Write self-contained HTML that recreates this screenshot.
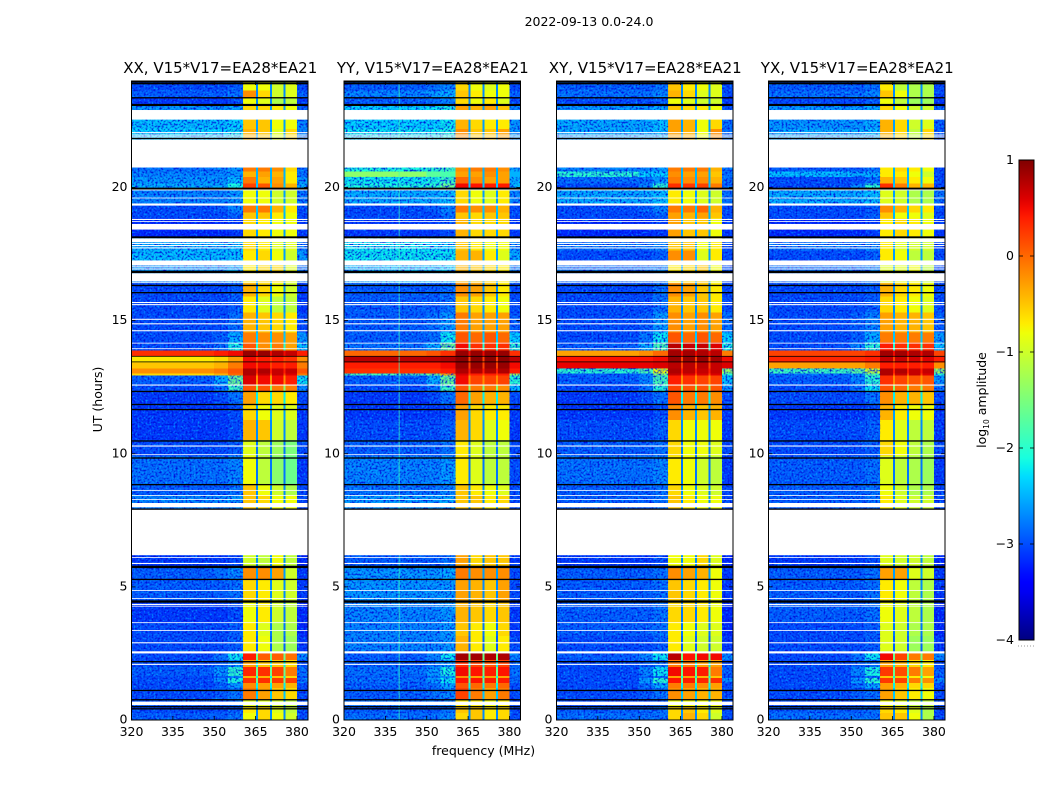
<!DOCTYPE html>
<html lang="en">
<head>
<meta charset="utf-8">
<title>2022-09-13 dynamic spectra</title>
<style>
html,body{margin:0;padding:0;background:#fff;width:1050px;height:800px;overflow:hidden}
svg{display:block}
text{font-family:"DejaVu Sans","Liberation Sans",sans-serif;fill:#000}
</style>
</head>
<body>
<svg id="chart" xmlns="http://www.w3.org/2000/svg" width="1050" height="800" viewBox="0 0 1050 800">
<defs>
<filter id="grain-light" x="0" y="0" width="1" height="1" color-interpolation-filters="sRGB">
<feTurbulence type="fractalNoise" baseFrequency="0.5" numOctaves="2" seed="4"/>
<feColorMatrix type="matrix" values="0 0 0 0 0  0 0 0 0 0.72  0 0 0 0 1  2.2 0 0 0 -1.08"/>
</filter>
<filter id="grain-dark" x="0" y="0" width="1" height="1" color-interpolation-filters="sRGB">
<feTurbulence type="fractalNoise" baseFrequency="0.5" numOctaves="2" seed="11"/>
<feColorMatrix type="matrix" values="0 0 0 0 0  0 0 0 0 0.05  0 0 0 0 0.85  3 0 0 0 -1.35"/>
</filter>
<linearGradient id="jet-gradient" x1="0" y1="1" x2="0" y2="0"></linearGradient>
</defs>
<text x="589" y="26" font-size="12.5" text-anchor="middle">2022-09-13 0.0-24.0</text>
<text x="483.5" y="755" font-size="12.5" text-anchor="middle">frequency (MHz)</text>
<text transform="translate(102,399.5) rotate(-90)" font-size="12.5" text-anchor="middle">UT (hours)</text>
<text transform="translate(986,400) rotate(-90)" font-size="12.5" text-anchor="middle">log<tspan font-size="7.5" dy="3">10</tspan><tspan dy="-3"> amplitude</tspan></text>
<g id="panels"></g>
<g id="colorbar"></g>
</svg>
<script>
// Frequency column edges (MHz): three background columns, then the four bright windows split by three notches, then the top edge.
const freqEdges = [320, 350, 355, 360.5, 365.1, 365.8, 370.2, 370.9, 375.2, 375.9, 380, 384];
const freqTicks = [320, 335, 350, 365, 380];
const utTicks = [0, 5, 10, 15, 20];
const cbarTicks = [1, 0, -1, -2, -3, -4];
const cbarTickLabels = ['1', '0', '\u22121', '\u22122', '\u22123', '\u22124'];
const panelTitles = ['XX, V15*V17=EA28*EA21', 'YY, V15*V17=EA28*EA21', 'XY, V15*V17=EA28*EA21', 'YX, V15*V17=EA28*EA21'];
// Time rows: UT at the top of every row (descending); last row ends at UT 0.
const rowTops = [24,23.64,23.38,23.11,22.55,22.2,20.75,20.6,20.4,20.15,19.96,19.32,19.06,18.84,18.12,17.64,17.26,16.44,15.9,15.31,14.56,14.18,13.88,13.66,13.43,13.21,13.02,12.94,12.57,12.31,11.86,11.26,10.51,9.91,8.86,8.44,6.19,5.78,5.25,4.43,3.68,3.15,2.55,2.25,1.99,1.65,1.58,1.39,1.2,0.75,0.53,0.26];
// log10 amplitude in the three notches, one per time row.
const notchLevels = [-2.7,-2.7,-2.7,-2.6,-2.6,-2.6,-2.5,-2.5,-2.5,-2.4,-2.6,-2.4,-2.5,-2.6,-2.6,-2.6,-2.6,-2.7,-2.7,-2.6,-2.4,-2,0.5,0.2,0.2,0.4,0.2,-0.2,-1.4,-2.2,-2.6,-2.7,-2.8,-2.8,-2.7,-2.7,-2.7,-2.6,-2.7,-2.8,-2.8,-2.9,-1.6,-2.2,-1.6,-2.2,-1.6,-2.2,-2.4,-2.7,-2.7,-2.7];
// One row per time row; columns: 320-350, 350-355, 355-360.5, window1, window2, window3, window4, 380-384.
const xxLevels = [
[-3,-3,-2.9,-.8,-.8,-1,-.9,-3],[-2.9,-2.9,-2.8,-.2,-.6,-1,-.9,-2.9],[-3.1,-3.1,-3,-.8,-.9,-1.2,-1.1,-3.1],[-2.6,-2.6,-2.5,-.6,-.6,-.7,-.8,-2.9],[-2.4,-2.4,-2.3,-.5,-.5,-.8,-.8,-2.7],[-2.3,-2.3,-2.2,-.4,-.5,-.9,-.6,-2.7],
[-2.8,-2.7,-2.6,-.1,-.1,-.2,-.6,-2.8],[-2.7,-2.7,-2.6,-.4,-.3,-.4,-.7,-2.8],[-2.6,-2.6,-2.4,-.1,-.4,-.3,-.7,-2.6],[-2.5,-2.5,-2.1,.2,.1,-.2,-.4,-2.5],[-2.7,-2.7,-2.6,-.8,-.8,-1,-1,-2.8],[-3,-2.9,-2.7,-.1,-.1,-.4,-.7,-3],[-3,-3,-2.9,-.5,-.5,-.7,-.8,-3],[-3.2,-3.2,-3.1,-.6,-.7,-.8,-.8,-3.1],[-2.5,-2.5,-2.4,-.6,-.7,-.9,-.9,-2.8],[-2.4,-2.4,-2.4,-.7,-.6,-.8,-1,-2.6],[-2.6,-2.6,-2.5,-.7,-.6,-.6,-.9,-2.8],
[-3,-3,-2.9,-.4,-.6,-.8,-1,-3.1],[-3,-3,-2.9,-.7,-.9,-1.1,-1.1,-3.1],[-3,-3,-2.8,-.4,-.5,-.6,-.7,-3],[-3,-2.9,-2.5,-.1,-.2,-.2,-.3,-2.6],[-3,-2.8,-2.1,.1,-.2,-.1,-.3,-2.4],
[.3,.4,.5,.9,.9,.8,.7,.4],[-.7,-.6,-.3,.5,.4,.4,.3,-.2],[-.5,-.4,-.1,.5,.5,.4,.4,-.1],[-.2,-.1,.1,.8,.8,.7,.7,.1],[-.6,-.4,0,.8,.7,.7,.6,-.1],[-2.9,-2.5,-1.6,.6,.5,.5,.4,-2.2],[-3,-2.8,-1.9,.1,.1,-.1,-.1,-2.7],
[-3.1,-3,-2.8,-.3,-.6,-.6,-.7,-3],[-3.1,-3.1,-3,-.6,-.8,-.9,-.9,-3.1],[-3.1,-3.1,-3,-.4,-.5,-1,-1.1,-3.1],[-3,-3,-2.9,-.9,-1.1,-1.3,-1.5,-3],[-2.8,-2.8,-2.7,-.8,-1.1,-1.4,-1.6,-3.1],[-2.9,-2.9,-2.8,-.5,-.8,-1,-1.2,-3],[-2.7,-2.7,-2.6,-.5,-.6,-.8,-.8,-3],
[-3.1,-3.1,-3,-1,-1.1,-.8,-1.1,-3.2],[-2.9,-2.8,-2.7,-.2,-.2,-.3,-1,-3.1],[-2.9,-2.9,-2.8,-.6,-.7,-.9,-1,-3.1],[-3.1,-3.1,-3,-.8,-.7,-1,-1.1,-3.2],[-3,-3,-2.9,-.7,-.9,-1.2,-1.2,-3.2],[-3,-3,-2.9,-.7,-.8,-1.2,-1.3,-3.1],
[-3,-2.8,-2.2,.4,.05,.05,-.05,-2.7],[-3,-2.9,-2.7,-.3,-.5,-.5,-.6,-3],[-2.9,-2.6,-2,.35,.3,.2,-.1,-2.8],[-3,-2.9,-2.7,-.4,-.4,-.5,-.6,-3],[-3,-2.7,-2.1,.3,.3,.25,.2,-2.8],[-3,-2.9,-2.6,-.2,-.3,-.3,-.4,-3],[-3,-2.9,-2.8,-.1,-.3,-.5,-.6,-3],[-2.9,-2.9,-2.8,-.9,-.9,-1,-1.1,-3],[-3,-3,-2.9,-.7,-.6,-.9,-1.1,-3],[-2.9,-2.9,-2.8,-.8,-.6,-.8,-1,-3]
];
const yyLevels = [
[-2.9,-2.8,-2.7,-.6,-.8,-.9,-.8,-3],[-2.7,-2.6,-2.5,-.5,-.7,-.8,-.8,-2.9],[-2.9,-2.8,-2.7,-.6,-.8,-.7,-.9,-3],[-2.3,-2.2,-2.1,-.3,-.4,-.3,-.5,-2.7],[-2.3,-2.3,-2.2,-.4,-.6,-.7,-.7,-2.6],[-2.2,-2.2,-2.1,-.2,-.5,-.5,-.3,-2.6],
[-2.1,-2,-1.9,-.2,-.1,-.1,-.2,-2.5],[-1.4,-1.7,-1.8,-.3,-.3,-.2,-.3,-2.5],[-2.2,-2.1,-1.9,0,-.2,-.3,-.3,-2.5],[-2.1,-2,-1.6,.5,.45,.4,.4,-2.4],[-2.5,-2.5,-2.4,-.6,-.8,-.9,-.7,-2.7],[-3,-2.9,-2.7,-.1,-.2,-.2,-.4,-3],[-3,-3,-2.8,-.5,-.6,-.5,-.5,-3],[-3.1,-3.1,-3,-.4,-.6,-.6,-.6,-3.1],[-2.2,-2.3,-2.3,-.5,-.7,-.8,-.8,-2.7],[-2.2,-2.2,-2.2,-.4,-.4,-.7,-.9,-2.5],[-2.4,-2.4,-2.3,-.4,-.5,-.6,-.7,-2.7],
[-2.9,-2.9,-2.8,-.2,-.3,-.5,-.7,-3],[-2.9,-2.9,-2.8,-.5,-.6,-.7,-.8,-3],[-2.9,-2.8,-2.6,-.1,-.3,-.3,-.3,-2.9],[-2.9,-2.8,-2.2,.1,0,.1,0,-2.3],[-2.8,-2.5,-1.6,.5,.3,.3,.3,-2],
[0,.1,.3,.9,.9,.9,.9,.3],[.75,.75,.8,.95,.95,.95,.95,.75],[.4,.4,.5,.9,.9,.9,.9,.5],[.3,.3,.4,.8,.8,.8,.8,.4],[-1.8,-1.5,-.3,.6,.4,.4,.4,-1.2],[-2.9,-2.5,-1.6,.5,.2,.2,.2,-2],[-3,-2.8,-1.9,.1,-.1,-.1,-.2,-2.4],
[-3.1,-3,-2.8,0,-.3,-.4,-.4,-3],[-3.1,-3.1,-3,-.3,-.6,-.7,-.7,-3.1],[-3,-3,-2.9,-.4,-.6,-.9,-.8,-3.1],[-2.9,-2.9,-2.8,-.7,-.9,-1.1,-1.1,-3],[-2.7,-2.7,-2.6,-.7,-.9,-1.1,-1.1,-3],[-2.8,-2.8,-2.7,-.5,-.7,-.8,-.9,-3],[-2.6,-2.6,-2.5,-.5,-.5,-.7,-.6,-3],
[-2.9,-2.9,-2.8,-.3,-.6,-.5,-.5,-3.1],[-2.6,-2.6,-2.5,-.1,-.2,-.2,-.2,-3],[-2.6,-2.6,-2.6,-.3,-.4,-.5,-.3,-3],[-2.7,-2.7,-2.6,-.4,-.5,-.6,-.5,-3.1],[-2.7,-2.7,-2.6,-.5,-.7,-.8,-.6,-3.1],[-2.7,-2.7,-2.6,-.4,-.7,-.9,-.7,-3],
[-2.9,-2.7,-2.2,.85,.85,.8,.8,-2.7],[-2.9,-2.8,-2.6,.3,.2,.1,.2,-2.9],[-2.8,-2.6,-2.1,.5,.45,.4,.45,-2.8],[-2.9,-2.8,-2.6,-.2,-.3,-.3,-.3,-2.9],[-2.8,-2.6,-2.2,.45,.45,.4,.4,-2.8],[-2.9,-2.8,-2.5,.1,0,-.1,0,-3],[-2.9,-2.8,-2.7,.2,-.1,-.3,-.1,-3],[-2.8,-2.8,-2.7,-.7,-.7,-.8,-.7,-3],[-2.9,-2.9,-2.8,-.5,-.5,-.7,-.6,-3],[-2.8,-2.8,-2.7,-.6,-.5,-.7,-.6,-3]
];
const xyLevels = [
[-2.9,-2.9,-2.8,-.5,-.7,-.8,-.9,-3],[-2.8,-2.8,-2.7,-.4,-.6,-.9,-.9,-3],[-3,-3,-2.9,-.8,-.9,-1,-1,-3.1],[-2.6,-2.6,-2.5,-.5,-.6,-.7,-.8,-2.9],[-2.5,-2.5,-2.4,-.3,-.4,-.8,-.6,-2.8],[-2.5,-2.5,-2.4,-.3,-.4,-.8,-.2,-2.8],
[-2.7,-2.7,-2.6,-.1,-.1,-.1,-.4,-2.8],[-2,-2.3,-2.3,-.2,-.3,-.3,-.5,-2.8],[-2.8,-2.8,-2.6,-.1,-.2,-.2,-.4,-2.8],[-3,-2.7,-2,.3,.25,.2,-.1,-2.9],[-2.5,-2.5,-2.4,-.7,-.8,-.9,-1,-2.8],[-3,-2.9,-2.7,-.1,-.1,0,-.4,-3],[-3,-3,-2.9,-.3,-.4,-.3,-.5,-3],[-3.2,-3.2,-3.1,-.3,-.5,-.5,-.8,-3.1],[-2.8,-2.8,-2.7,-.5,-.5,-.8,-.7,-3],[-3,-3,-2.9,-.2,-.2,-.9,-.7,-3],[-2.8,-2.8,-2.7,-.7,-.6,-.5,-.8,-3],
[-3,-3,-2.8,-.2,-.3,-.5,-.7,-3],[-3,-3,-2.8,-.4,-.5,-.5,-.7,-3],[-3,-2.9,-2.6,-.2,-.3,-.2,-.3,-2.8],[-3,-2.8,-2.2,.1,0,.1,0,-2.3],[-2.9,-2.5,-1.8,.75,.7,.7,.6,-2.1],
[-.3,-.2,0,.85,.85,.8,.75,-.1],[.45,.45,.5,.9,.9,.9,.85,.5],[.55,.55,.6,.75,.75,.75,.7,.6],[-2,-1.8,-.8,.8,.75,.7,.7,-1.3],[-2.9,-2.7,-1.5,.7,.6,.6,.6,-2],[-2.9,-2.7,-1.8,.4,.3,.2,.2,-2.4],[-3,-2.8,-2,.2,.1,.1,.1,-2.6],
[-3.1,-3,-2.8,.1,-.1,-.1,-.2,-3],[-3.1,-3.1,-3,-.2,-.4,-.5,-.4,-3.1],[-3,-3,-2.9,-.6,-.8,-.8,-.8,-3.1],[-2.9,-2.9,-2.8,-.6,-.8,-.8,-.9,-3],[-2.8,-2.8,-2.7,-.7,-.8,-1,-1.1,-3.1],[-2.9,-2.9,-2.8,-.6,-.8,-.9,-1,-3],[-2.9,-2.9,-2.8,-.5,-.7,-.8,-.8,-3],
[-3.1,-3.1,-3,-.8,-.8,-.6,-.9,-3.2],[-2.9,-2.9,-2.8,-.2,-.3,-.4,-.8,-3.1],[-2.9,-2.9,-2.8,-.5,-.6,-.7,-.8,-3.1],[-2.9,-2.9,-2.8,-.6,-.6,-.7,-.8,-3.2],[-2.9,-2.9,-2.8,-.7,-.8,-.9,-.9,-3.2],[-3,-3,-2.9,-.7,-.9,-1,-1,-3.1],
[-2.9,-2.7,-2.2,.75,.45,.5,.5,-2.7],[-3,-2.9,-2.8,-.1,-.1,-.3,-.3,-3],[-3,-2.7,-2.2,.5,.45,.4,-.1,-2.9],[-3,-2.9,-2.8,-.3,-.3,-.4,-.5,-3],[-3,-2.6,-2,.45,.4,.35,.3,-2.7],[-3,-2.8,-2.5,-.1,-.1,-.2,-.3,-3],[-3,-2.9,-2.8,-.2,-.3,-.4,-.4,-3],[-3,-3,-2.9,-.8,-.8,-.8,-.8,-3],[-2.9,-2.9,-2.8,-.6,-.5,-.7,-.9,-3],[-2.8,-2.8,-2.8,-.6,-.4,-.6,-1,-3]
];
const yxLevels = [
[-2.9,-2.9,-2.8,-.7,-1.1,-1.2,-1.2,-3],[-2.8,-2.8,-2.7,-.5,-.8,-1.2,-1.2,-3],[-3,-3,-2.9,-.8,-1.1,-1.3,-1.3,-3.1],[-2.6,-2.6,-2.5,-.6,-.8,-1,-1,-2.9],[-2.6,-2.6,-2.5,-.4,-.6,-1,-.9,-2.9],[-2.5,-2.5,-2.4,-.4,-.6,-1.1,-.6,-2.9],
[-2.9,-2.9,-2.8,-.7,-.6,-.7,-.8,-3],[-2.4,-2.5,-2.5,-.7,-.7,-.8,-1,-3],[-3,-3,-2.8,-.4,-.5,-.7,-.8,-3],[-3,-2.7,-2,.3,-.1,-.4,-.4,-3],[-2.5,-2.5,-2.4,-.9,-1,-1.2,-1.2,-2.8],[-3,-3,-2.9,-.2,-.4,-.6,-.7,-3],[-3,-3,-2.9,-.5,-.8,-.8,-.9,-3],[-3.2,-3.2,-3.1,-.7,-.6,-.7,-.8,-3.1],[-2.8,-2.8,-2.7,-.7,-.9,-1,-1,-3],[-3,-3,-2.9,-.7,-.8,-1.1,-1.1,-3],[-2.8,-2.8,-2.7,-.9,-.9,-.8,-1.1,-3],
[-3,-3,-2.9,-.4,-.6,-.7,-.8,-3],[-3,-3,-2.9,-.6,-.7,-.8,-.9,-3],[-3,-2.9,-2.7,-.3,-.4,-.4,-.5,-2.9],[-3,-2.9,-2.5,-.1,-.1,-.1,-.1,-2.6],[-3,-2.7,-2,.4,.3,.3,.3,-2.4],
[.2,.2,.3,.85,.85,.8,.8,.2],[.35,.35,.4,.7,.7,.65,.6,.4],[-.3,-.3,-.1,.4,.4,.4,.4,-.2],[-1.9,-1.7,-1,.8,.8,.7,.7,-1.3],[-2.8,-2.6,-1.8,.8,.7,.7,.6,-2],[-2.9,-2.7,-2,.3,.2,.1,.1,-2.6],[-3,-2.8,-2.2,.1,0,-.1,-.1,-2.8],
[-3,-3,-2.8,-.2,-.4,-.4,-.5,-3],[-3.1,-3.1,-3,-.4,-.7,-.8,-.8,-3.1],[-3,-3,-2.9,-.7,-.9,-1.1,-1.1,-3.1],[-3,-3,-2.9,-.6,-.8,-1.1,-1.2,-3],[-2.9,-2.9,-2.8,-.9,-1.1,-1.2,-1.3,-3.1],[-2.9,-2.9,-2.8,-.8,-1,-1.2,-1.2,-3],[-2.9,-2.9,-2.8,-.7,-.9,-1,-1,-3],
[-3.1,-3.1,-3,-.9,-1,-1,-1.1,-3.2],[-2.9,-2.9,-2.8,-.3,-.3,-.9,-1,-3.1],[-2.9,-2.9,-2.8,-.7,-.8,-1.1,-1.2,-3.1],[-2.9,-2.9,-2.8,-.8,-.9,-1.1,-1.2,-3.2],[-3,-3,-2.9,-.9,-1,-1.2,-1.2,-3.2],[-3,-3,-2.9,-.9,-1,-1.3,-1.3,-3.1],
[-3,-2.8,-2.2,.5,.2,-.1,-.1,-2.7],[-3,-2.9,-2.8,-.3,-.4,-.6,-.7,-3],[-3,-2.7,-2.1,.25,.15,-.1,-.3,-2.9],[-3,-2.9,-2.8,-.5,-.5,-.7,-.8,-3],[-3,-2.6,-2,.25,.2,-.1,-.2,-2.7],[-3,-2.8,-2.5,-.3,-.4,-.6,-.6,-3],[-3,-2.9,-2.8,-.3,-.5,-.7,-.8,-3],[-3,-3,-2.9,-.8,-.9,-1.1,-1.1,-3],[-2.9,-2.9,-2.8,-.6,-.7,-.9,-1.2,-3],[-2.8,-2.8,-2.8,-.5,-.5,-.8,-1.2,-3]
];
const panelLevels = [xxLevels, yyLevels, xyLevels, yxLevels];
// Flagged (no data) time ranges, UT [top, bottom], white in every panel.
const flaggedTop = [22.91,22.08,21.99,21.92,21.8,19.93,19.62,19.4,18.82,18.74,18.63,18.09,17.92,17.84,17.75,17.26,17.04,16.96,16.78,16.44,15.7,15.62,15.07,14.9,14.64,14.17,13.96,12.6,10.31,9.98,8.64,8.45,8.3,8.15,7.92,6.12,5.9,4.88,4.58,4.36,4.29,3.67,3.38,2.92,2.58,2.11,0.69];
const flaggedBottom = [22.55,22.04,21.95,21.88,20.75,19.89,19.59,19.32,18.78,18.71,18.42,17.95,17.88,17.8,17.71,17.07,17,16.92,16.47,16.41,15.66,15.58,15.03,14.86,14.6,14.14,13.93,12.56,10.27,9.95,8.61,8.42,8.27,7.99,6.19,6.09,5.86,4.85,4.55,4.32,4.26,3.64,3.35,2.88,2.5,2.07,0.56];
// Zero-amplitude integrations drawn black in every panel, UT and thickness in hours.
const blankTimes = [23.96,23.9,23.37,23.1,21.84,19.96,18.13,16.83,16.32,16.05,13.66,13.45,12.34,11.85,11.66,10.48,9.84,8.84,7.92,5.75,5.28,4.45,2.19,1.11,0.76,0.5,0.42];
const blankHeights = [.05,.05,.05,.08,.05,.07,.07,.09,.05,.05,.03,.03,.05,.05,.05,.05,.05,.05,.05,.09,.05,.09,.05,.05,.05,.05,.05];
// Narrow interference line seen only in the YY panel.
const yyRfiFreq = 340;
const yyRfiLevel = -1.9;

const NS = 'http://www.w3.org/2000/svg';
const panelLefts = [131.5, 344, 556.5, 768.5];
const panelW = 176.5, plotTop = 81, plotBottom = 720;
const freqMin = 320, freqMax = 384, utMin = 0, utMax = 24;
const cbMin = -4, cbMax = 1, cbX = 1019, cbW = 15, cbTop = 160, cbBottom = 640;
const xScale = (f, left) => left + (f - freqMin) / (freqMax - freqMin) * panelW;
const yScale = u => plotBottom - (u - utMin) / (utMax - utMin) * (plotBottom - plotTop);
const cbScale = v => cbBottom - (v - cbMin) / (cbMax - cbMin) * (cbBottom - cbTop);
function ramp(t, pts) {
  for (let i = 1; i < pts.length; i++) {
    if (t <= pts[i][0]) {
      const a = pts[i - 1], b = pts[i];
      return a[1] + (b[1] - a[1]) * (t - a[0]) / (b[0] - a[0]);
    }
  }
  return pts[pts.length - 1][1];
}
function jet(t) {
  t = Math.max(0, Math.min(1, t));
  const r = ramp(t, [[0, 0], [.35, 0], [.66, 1], [.89, 1], [1, .5]]);
  const g = ramp(t, [[0, 0], [.125, 0], [.375, 1], [.64, 1], [.91, 0], [1, 0]]);
  const b = ramp(t, [[0, .5], [.11, 1], [.34, 1], [.65, 0], [1, 0]]);
  return 'rgb(' + Math.round(r * 255) + ',' + Math.round(g * 255) + ',' + Math.round(b * 255) + ')';
}
const levelColor = v => jet((v - cbMin) / (cbMax - cbMin));
function mk(tag, parent, attrs) {
  const el = document.createElementNS(NS, tag);
  for (const k in attrs) el.setAttribute(k, attrs[k]);
  parent.appendChild(el);
  return el;
}
// Map a frequency column to its slot in a level row; -1 means a notch.
const columnSlots = [0, 1, 2, 3, -1, 4, -1, 5, -1, 6, 7];
const defs = document.querySelector('defs');
const panelsGroup = document.getElementById('panels');

panelLevels.forEach((levels, p) => {
  const left = panelLefts[p];
  const panel = mk('g', panelsGroup, {});
  
  
  const title = mk('text', panel, { x: left + panelW / 2 + .5, y: 73, 'font-size': 15, 'text-anchor': 'middle' });
  title.textContent = panelTitles[p];
  
  

  const clip = mk('clipPath', defs, { id: 'quiet-' + p });
  const heat = mk('g', panel, { 'shape-rendering': 'crispEdges' });
  
  
  rowTops.forEach((top, r) => {
    const bottom = r + 1 < rowTops.length ? rowTops[r + 1] : utMin;
    const y0 = yScale(top), y1 = yScale(bottom);
    columnSlots.forEach((slot, c) => {
      const x0 = xScale(freqEdges[c], left), x1 = xScale(freqEdges[c + 1], left);
      const v = slot < 0 ? notchLevels[r] : levels[r][slot];
      const cell = mk('rect', heat, { x: x0, y: y0, width: x1 - x0, height: y1 - y0 + .4, fill: levelColor(v) });
      
      
    });
    if (levels[r][0] < -1.5) {
      mk('rect', clip, { x: xScale(freqEdges[0], left), y: y0, width: xScale(360.5, left) - xScale(freqEdges[0], left), height: y1 - y0 });
      mk('rect', clip, { x: xScale(380, left), y: y0, width: xScale(384, left) - xScale(380, left), height: y1 - y0 });
    }
  });
  const grain = mk('g', panel, { 'clip-path': 'url(#quiet-' + p + ')' });
  
  
  mk('rect', grain, { x: left, y: plotTop, width: panelW, height: plotBottom - plotTop, filter: 'url(#grain-light)' });
  mk('rect', grain, { x: left, y: plotTop, width: panelW, height: plotBottom - plotTop, filter: 'url(#grain-dark)' });

  if (p === 1) {
    const rfi = mk('rect', panel, { x: xScale(yyRfiFreq, left) - .5, y: plotTop, width: 1, height: plotBottom - plotTop, fill: levelColor(yyRfiLevel), opacity: .7 });
    
    
  }

  flaggedTop.forEach((top, i) => {
    const y0 = yScale(top), y1 = yScale(flaggedBottom[i]);
    const gap = mk('rect', panel, { x: left, y: y0, width: panelW, height: y1 - y0, fill: '#fff' });
    
    
  });
  blankTimes.forEach((t, i) => {
    const h = blankHeights[i] * (plotBottom - plotTop) / (utMax - utMin);
    const line = mk('rect', panel, { x: left, y: yScale(t) - h / 2, width: panelW, height: h, fill: '#000' });
    
    
  });

  const frame = mk('rect', panel, { x: left, y: plotTop, width: panelW, height: plotBottom - plotTop, fill: 'none', stroke: '#000', 'stroke-width': 1 });
  
  

  freqTicks.forEach(f => {
    const x = xScale(f, left);
    const t1 = mk('line', panel, { x1: x, x2: x, y1: plotBottom, y2: plotBottom - 4, stroke: '#000', 'stroke-width': .8 });
    
    
    const t2 = mk('line', panel, { x1: x, x2: x, y1: plotTop, y2: plotTop + 4, stroke: '#000', 'stroke-width': .8 });
    
    
    const lab = mk('text', panel, { x: x, y: 736, 'font-size': 12.5, 'text-anchor': 'middle' });
    lab.textContent = f;
    
    
  });
  utTicks.forEach(u => {
    const y = yScale(u);
    const t1 = mk('line', panel, { x1: left, x2: left + 4, y1: y, y2: y, stroke: '#000', 'stroke-width': .8 });
    
    
    const t2 = mk('line', panel, { x1: left + panelW, x2: left + panelW - 4, y1: y, y2: y, stroke: '#000', 'stroke-width': .8 });
    
    
    const lab = mk('text', panel, { x: left - 4, y: y + 3.5, 'font-size': 12.5, 'text-anchor': 'end' });
    lab.textContent = u;
    
    
  });
});

// Colour bar
const grad = document.getElementById('jet-gradient');
for (let i = 0; i <= 50; i++) {
  mk('stop', grad, { offset: i / 50, 'stop-color': jet(i / 50) });
}
const cbGroup = document.getElementById('colorbar');
const cbBar = mk('rect', cbGroup, { x: cbX, y: cbTop, width: cbW, height: cbBottom - cbTop, fill: 'url(#jet-gradient)', stroke: '#000', 'stroke-width': 1 });


cbarTicks.forEach((v, i) => {
  const y = cbScale(v);
  const t1 = mk('line', cbGroup, { x1: cbX, x2: cbX + 4, y1: y, y2: y, stroke: '#000', 'stroke-width': .8 });
  
  
  const t2 = mk('line', cbGroup, { x1: cbX + cbW, x2: cbX + cbW - 4, y1: y, y2: y, stroke: '#000', 'stroke-width': .8 });
  
  
  const lab = mk('text', cbGroup, { x: cbX - 5, y: y + 4, 'font-size': 12.5, 'text-anchor': 'end' });
  lab.textContent = cbarTickLabels[i];
  
  
});
const cbMinor = mk('line', cbGroup, { x1: cbX - 1, x2: cbX + cbW, y1: 646, y2: 646, stroke: '#999', 'stroke-width': 1, 'stroke-dasharray': '1 2' });


</script>
</body>
</html>
